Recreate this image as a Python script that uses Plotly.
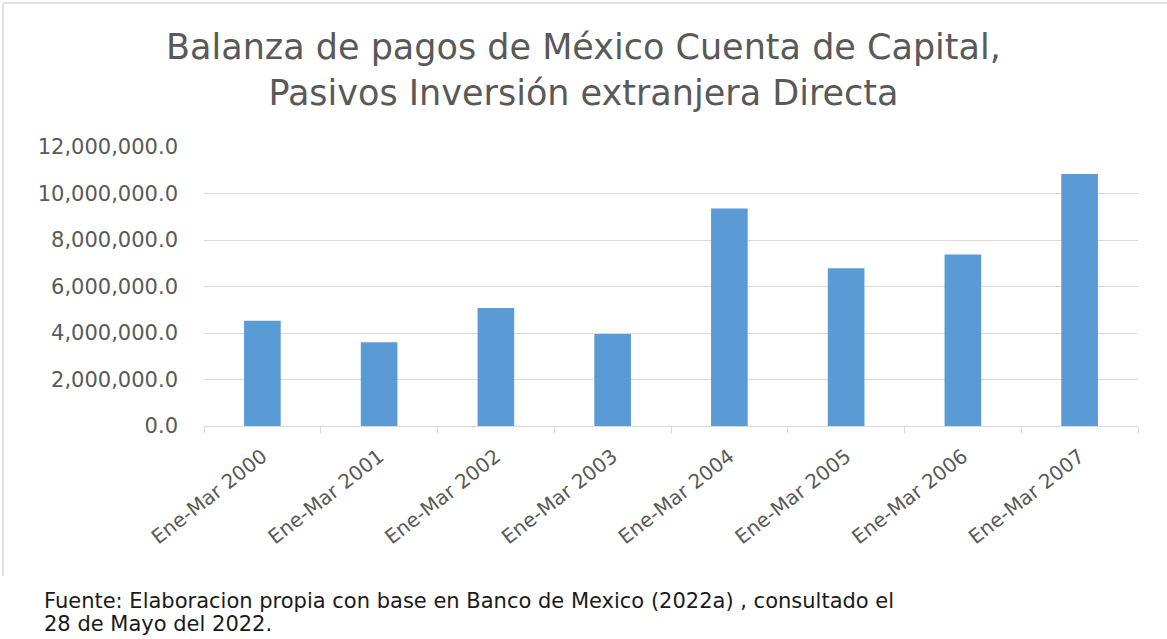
import plotly.graph_objects as go

categories = ["Ene-Mar 2000", "Ene-Mar 2001", "Ene-Mar 2002", "Ene-Mar 2003",
              "Ene-Mar 2004", "Ene-Mar 2005", "Ene-Mar 2006", "Ene-Mar 2007"]
values = [4530000, 3600000, 5080000, 3960000, 9360000, 6780000, 7380000, 10840000]
y_ticks = [0, 2000000, 4000000, 6000000, 8000000, 10000000, 12000000]

W, H = 1167, 639
L, R, T, B = 204, 29, 147, 213
pw, ph = W - L - R, H - T - B

def px_x(x):
    return (x - L) / pw

def px_y(y):
    return (H - B - y) / ph

FONT = "DejaVu Sans"
GRAY = "#595959"

fig = go.Figure()
fig.add_trace(go.Bar(x=categories, y=values, marker=dict(color="#5B9BD5", line=dict(width=0))))

fig.update_layout(
    width=W, height=H,
    margin=dict(l=L, r=R, t=T, b=B, autoexpand=False),
    paper_bgcolor="white", plot_bgcolor="white",
    bargap=0.686,
    showlegend=False,
    font=dict(family=FONT, color=GRAY),
)

fig.update_xaxes(
    type="category",
    tickangle=-38,
    tickfont=dict(family=FONT, size=20, color=GRAY),
    showline=True, linecolor="#D9D9D9", linewidth=1,
    ticks="outside", tickson="boundaries", ticklen=6, tickcolor="#D9D9D9",
    showgrid=False,
    ticklabelstandoff=10,
)
fig.update_yaxes(
    range=[0, 12000000],
    tickvals=y_ticks,
    tickformat=",.1f",
    tickfont=dict(family=FONT, size=21, color=GRAY),
    showgrid=True, gridcolor="#D9D9D9", gridwidth=1,
    zeroline=False, showline=False,
    ticks="", ticklabelstandoff=25,
)

# chart border (top and left edges visible)
fig.add_shape(type="line", xref="paper", yref="paper",
              x0=px_x(3), x1=px_x(1167), y0=px_y(3), y1=px_y(3),
              line=dict(color="#D9D9D9", width=1.5), layer="below")
fig.add_shape(type="line", xref="paper", yref="paper",
              x0=px_x(3), x1=px_x(3), y0=px_y(3), y1=px_y(576),
              line=dict(color="#D9D9D9", width=1.5), layer="below")

# title
fig.add_annotation(
    xref="paper", yref="paper",
    x=px_x(583), y=px_y(25), xanchor="center", yanchor="top",
    text="Balanza de pagos de México Cuenta de Capital,<br>Pasivos Inversión extranjera Directa",
    showarrow=False, align="center",
    font=dict(family=FONT, size=35, color=GRAY),
)

# source note
fig.add_annotation(
    xref="paper", yref="paper",
    x=px_x(42), y=px_y(587), xanchor="left", yanchor="top",
    text="Fuente: Elaboracion propia con base en Banco de Mexico (2022a) , consultado el",
    showarrow=False, align="left",
    font=dict(family=FONT, size=21, color="#1a1a1a"),
)
fig.add_annotation(
    xref="paper", yref="paper",
    x=px_x(42), y=px_y(610), xanchor="left", yanchor="top",
    text="28 de Mayo del 2022.",
    showarrow=False, align="left",
    font=dict(family=FONT, size=21, color="#1a1a1a"),
)

fig.write_html(
    "out.html",
    config={"displayModeBar": False},
    post_script="document.body.style.margin='0';document.body.style.overflow='hidden';",
)
